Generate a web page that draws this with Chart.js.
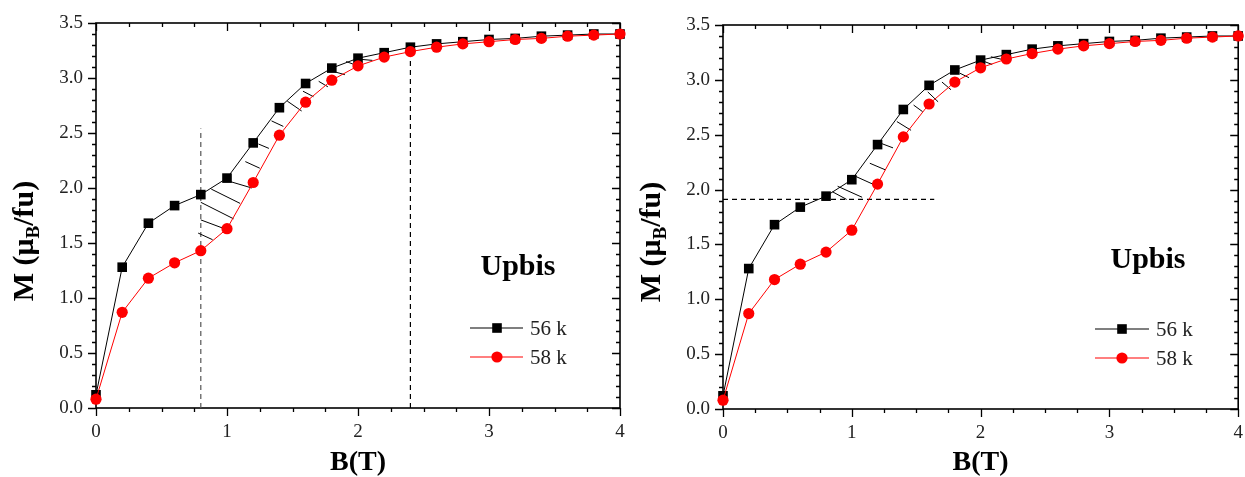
<!DOCTYPE html>
<html><head><meta charset="utf-8">
<script src="https://cdn.jsdelivr.net/npm/chart.js@4/dist/chart.umd.min.js"></script>
<style>
html,body{margin:0;padding:0;background:#fff;}
#wrap{position:relative;width:1245px;height:477px;overflow:hidden;}
#c1{position:absolute;left:0;top:0;}
#c2{position:absolute;left:630px;top:0;}
.pre{position:absolute;left:-999px;top:0;font-family:"Liberation Serif";}
</style></head><body>
<div class="pre"><span style="font-weight:normal">0123456789 k</span><span style="font-weight:bold">Upbis</span></div>
<div id="wrap"><canvas id="c1" width="630" height="477"></canvas><canvas id="c2" width="615" height="477"></canvas></div>
<script>
// ---- data ----
const fieldB = [0,0.2,0.4,0.6,0.8,1.0,1.2,1.4,1.6,1.8,2.0,2.2,2.4,2.6,2.8,3.0,3.2,3.4,3.6,3.8,4.0];
const m56k = [0.12,1.28,1.68,1.84,1.94,2.09,2.41,2.73,2.95,3.09,3.18,3.23,3.28,3.31,3.33,3.35,3.36,3.38,3.39,3.40,3.40];
const m58k = [0.08,0.87,1.18,1.32,1.43,1.63,2.05,2.48,2.78,2.98,3.11,3.19,3.24,3.28,3.31,3.33,3.35,3.36,3.38,3.39,3.40];
const seriesNames = ['56 k','58 k'];
const panelLabel = 'Upbis';
const xTitle = 'B(T)';
const yTitleParts = ['M (\u03bc','B','/fu)'];
const xTickStep = 1, xMin = 0, xMax = 4, xMinorStep = 0.25;
const yTickStep = 0.5, yMin = 0, yMax = 3.5, yMinorStep = 0.1;
// hatch segments [x1,y1,x2,y2] in data units
const hatchLeft = [
 [0.78,1.59,0.89,1.53],[0.80,1.71,0.98,1.63],[0.80,1.87,1.05,1.72],[0.88,1.99,1.10,1.86],
 [1.02,2.06,1.19,2.00],[1.14,2.24,1.25,2.18],[1.24,2.40,1.32,2.36],[1.34,2.61,1.43,2.56],
 [1.46,2.79,1.57,2.70],[1.58,2.88,1.66,2.83],[1.70,2.97,1.77,2.92],[1.81,3.06,1.90,3.03],
 [1.91,3.15,2.02,3.10],[2.02,3.17,2.11,3.16]
];
const hatchRight = [
 [0.85,1.98,0.96,1.91],[0.89,2.03,1.08,1.93],[1.03,2.12,1.20,2.03],[1.14,2.24,1.26,2.18],
 [1.23,2.42,1.32,2.38],[1.35,2.62,1.46,2.54],[1.48,2.77,1.55,2.71],[1.59,2.89,1.67,2.80],
 [1.70,2.98,1.77,2.91],[1.84,3.06,1.91,3.02],[2.00,3.18,2.09,3.14],[2.08,3.21,2.19,3.18]
];
// dashed guide lines: [x1,y1,x2,y2,colour]
const guidesLeft = [[0.8,0,0.8,2.54,'#555'],[2.4,0,2.4,3.24,'#000']];
const guidesRight = [[0,1.91,1.64,1.91,'#000']];

// ---- helpers ----
const SERIF = '"Liberation Serif", "Times New Roman", serif';
function pts(xs, ys){ return xs.map((x,i)=>({x:x,y:ys[i]})); }
function segData(segs){
  const d=[];
  segs.forEach(s=>{ d.push({x:s[0],y:s[1]}); d.push({x:s[2],y:s[3]}); d.push({x:s[2],y:null}); });
  return d;
}

function makeChart(id, cfg){
  const decor = {
    id:'decor',
    beforeDatasetsDraw(chart){
      const ctx=chart.ctx, a=chart.chartArea, xs=chart.scales.x, ys=chart.scales.y;
      ctx.save();
      ctx.strokeStyle='#000'; ctx.lineWidth=1.6;
      ctx.strokeRect(a.left,a.top,a.right-a.left,a.bottom-a.top);
      ctx.lineWidth=1.3;
      ctx.beginPath();
      for(let v=xMin; v<=xMax+1e-9; v+=xMinorStep){
        const major=Math.abs(v-Math.round(v/xTickStep)*xTickStep)<1e-6;
        const L=major?8:4, px=Math.round(xs.getPixelForValue(v))+0.5;
        ctx.moveTo(px,a.bottom); ctx.lineTo(px,a.bottom+L);
        ctx.moveTo(px,a.top); ctx.lineTo(px,a.top+L);
      }
      for(let k=0; k<=Math.round((yMax-yMin)/yMinorStep); k++){
        const v=yMin+k*yMinorStep;
        const major=(k%Math.round(yTickStep/yMinorStep))===0;
        const L=major?8:4, py=Math.round(ys.getPixelForValue(v))+0.5;
        ctx.moveTo(a.left,py); ctx.lineTo(a.left-L,py);
        ctx.moveTo(a.right,py); ctx.lineTo(a.right-L,py);
      }
      ctx.stroke();
      ctx.restore();
    },
    afterDraw(chart){
      const ctx=chart.ctx, a=chart.chartArea;
      ctx.save();
      ctx.fillStyle='#000';
      ctx.font='bold 28px '+SERIF;
      ctx.textAlign='center'; ctx.textBaseline='alphabetic';
      ctx.fillText(xTitle,(a.left+a.right)/2,cfg.xTitleBase);
      const fMain='bold 30px '+SERIF, fSub='bold 19px '+SERIF;
      ctx.font=fMain; const w0=ctx.measureText(yTitleParts[0]).width;
      const w2=ctx.measureText(yTitleParts[2]).width;
      ctx.font=fSub; const w1=ctx.measureText(yTitleParts[1]).width;
      const W=w0+w1+w2;
      ctx.translate(cfg.yTitleBaseX,cfg.yTitleCenterY);
      ctx.rotate(-Math.PI/2);
      ctx.textAlign='left';
      let x=-W/2;
      ctx.font=fMain; ctx.fillText(yTitleParts[0],x,0); x+=w0;
      ctx.font=fSub; ctx.fillText(yTitleParts[1],x,6); x+=w1;
      ctx.font=fMain; ctx.fillText(yTitleParts[2],x,0);
      ctx.setTransform(1,0,0,1,0,0);
      ctx.font='bold 30px '+SERIF; ctx.textAlign='center';
      ctx.fillText(panelLabel,cfg.labelX,cfg.labelBase);
      const L=cfg.legend;
      const cols=['#000','#ff0000'];
      for(let i=0;i<2;i++){
        const y=L.y[i];
        ctx.strokeStyle=cols[i]; ctx.lineWidth=1.2;
        ctx.beginPath(); ctx.moveTo(L.x1,y); ctx.lineTo(L.x2,y); ctx.stroke();
        ctx.fillStyle=cols[i];
        if(i===0){ ctx.fillRect(L.xm-4.8,y-4.8,9.6,9.6); }
        else { ctx.beginPath(); ctx.arc(L.xm,y,5.6,0,Math.PI*2); ctx.fill(); }
        ctx.fillStyle='#222'; ctx.font='normal 400 21px '+SERIF; ctx.textAlign='left'; ctx.textBaseline='middle';
        ctx.fillText(seriesNames[i],L.xt,y+1);
      }
      ctx.restore();
    }
  };
  const datasets=[
    {label:seriesNames[1], data:pts(fieldB,m58k), showLine:true, borderColor:'#ff0000', borderWidth:1,
     pointStyle:'circle', pointRadius:5.6, pointBackgroundColor:'#ff0000', pointBorderWidth:0, order:0, clip:false},
    {label:seriesNames[0], data:pts(fieldB,m56k), showLine:true, borderColor:'#000', borderWidth:1,
     pointStyle:'rect', pointRadius:6.8, pointBackgroundColor:'#000', pointBorderWidth:0, order:1, clip:false},
    {label:'hatch', data:segData(cfg.hatch), showLine:true, spanGaps:false, borderColor:'#000', borderWidth:1,
     pointRadius:0, order:2}
  ];
  cfg.guides.forEach(g=>{
    datasets.push({label:'guide', data:[{x:g[0],y:g[1]},{x:g[2],y:g[3]}], showLine:true, borderColor:g[4],
      borderWidth:1.2, borderDash:[5,4], pointRadius:0, order:3});
  });
  const tickFont={family:SERIF,size:19,weight:'normal',style:'normal'};
  return new Chart(document.getElementById(id),{
    type:'scatter',
    data:{datasets:datasets},
    options:{
      responsive:false, animation:false, devicePixelRatio:1,
      font:{family:SERIF},
      layout:{padding:cfg.pad},
      plugins:{legend:{display:false}, tooltip:{enabled:false}},
      scales:{
        x:{type:'linear', min:xMin, max:xMax,
           ticks:{stepSize:xTickStep, color:'#222', font:tickFont, padding:13, maxRotation:0,
                  callback:v=>String(v)},
           grid:{display:false, drawTicks:false}, border:{display:false},
           afterFit(s){ s.height=cfg.xAxisH; s.paddingLeft=0; s.paddingRight=0; }},
        y:{type:'linear', min:yMin, max:yMax,
           ticks:{stepSize:yTickStep, color:'#222', font:tickFont, padding:13,
                  callback:v=>Number(v).toFixed(1)},
           grid:{display:false, drawTicks:false}, border:{display:false},
           afterFit(s){ s.width=cfg.yAxisW; s.paddingTop=0; s.paddingBottom=0; }}
      }
    },
    plugins:[decor]
  });
}

function build(){
  Chart.defaults.font.family = SERIF;
  makeChart('c1',{pad:{top:23,right:10,left:0,bottom:0}, xAxisH:69, yAxisW:96,
    hatch:hatchLeft, guides:guidesLeft, xTitleBase:470, yTitleBaseX:33, yTitleCenterY:241,
    labelX:518, labelBase:275, legend:{x1:470,x2:523,xm:497,xt:530,y:[328,357]}});
  makeChart('c2',{pad:{top:25,right:2,left:0,bottom:0}, xAxisH:68, yAxisW:93,
    hatch:hatchRight, guides:guidesRight, xTitleBase:470, yTitleBaseX:30, yTitleCenterY:242,
    labelX:518, labelBase:268, legend:{x1:465,x2:519,xm:492,xt:526,y:[329,358]}});
}
let built=false;
function go(){ if(!built){ built=true; build(); } }
if(document.fonts && document.fonts.load){
  Promise.all([document.fonts.load('18px "Liberation Serif"'),document.fonts.load('bold 28px "Liberation Serif"')])
    .then(go, go);
  setTimeout(go, 800);
} else { go(); }
</script>
</body></html>
